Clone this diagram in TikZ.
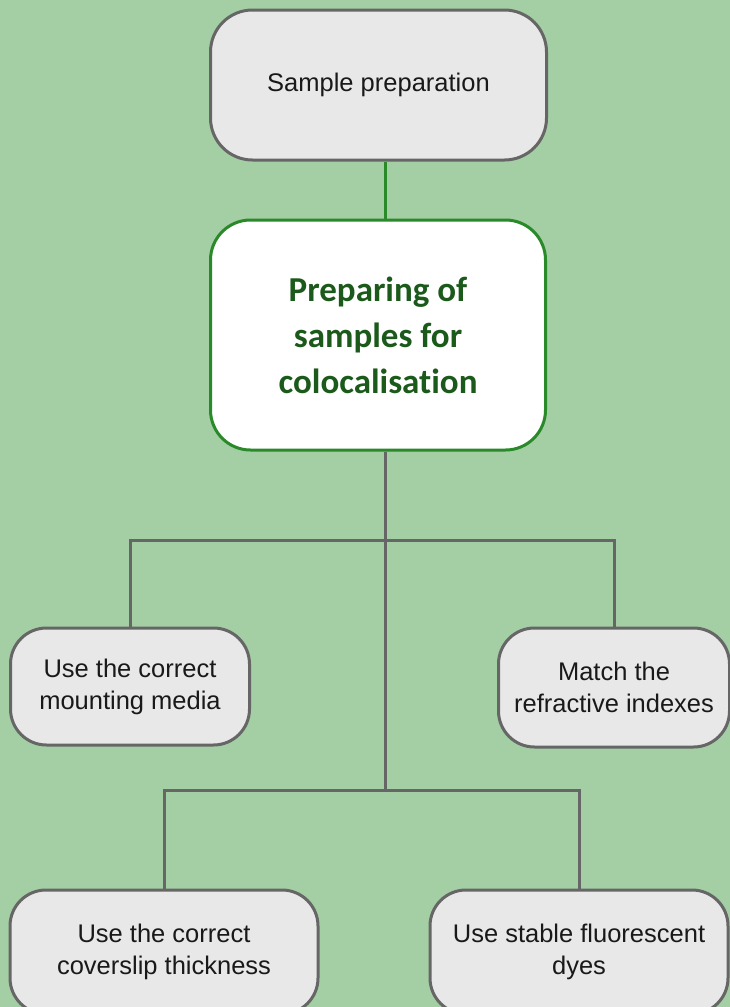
\documentclass[tikz,border=0pt]{standalone}
\usepackage{fontspec}
\setmainfont{Liberation Sans}
\newfontfamily\carlito[Ligatures=NoCommon]{Carlito}
\definecolor{bg}{HTML}{A4CEA4}
\definecolor{boxfill}{HTML}{E8E8E8}
\definecolor{boxline}{HTML}{666666}
\definecolor{gline}{HTML}{2A8A2A}
\definecolor{gtext}{HTML}{1B5A1B}
\begin{document}
\begin{tikzpicture}[x=1pt,y=-1pt,
  graybox/.style={draw=boxline, fill=boxfill, line width=3pt, rounded corners=36pt,
    align=center, inner sep=0pt, font=\fontsize{25.5}{32}\selectfont, text=black!90},
  mainbox/.style={draw=gline, fill=white, line width=3pt, rounded corners=40pt,
    align=center, inner sep=0pt, font=\carlito\bfseries\fontsize{35}{46}\selectfont, text=gtext},
  greenconn/.style={draw=gline, line width=3pt},
  grayconn/.style={draw=boxline, line width=3pt}]
\useasboundingbox (0,0) rectangle (730,1007);
\fill[bg] (0,0) rectangle (730,1007);
\clip (0,0) rectangle (730,1007);
% nodes
\node[graybox, rounded corners=42pt, minimum width=336pt, minimum height=150pt] (sp) at (378.5,85) {Sample preparation};
\node[mainbox, minimum width=335pt, minimum height=230pt] (main) at (378,335) {Preparing of\\samples for\\colocalisation};
\node[graybox, minimum width=239pt, minimum height=117pt] (mm) at (130,686.5) {Use the correct\\mounting media};
\node[graybox, minimum width=231pt, minimum height=119pt] (ri) at (614,687.5) {Match the\\refractive indexes};
\node[graybox, minimum width=308pt, minimum height=124pt] (cs) at (164,952) {Use the correct\\coverslip thickness};
\node[graybox, minimum width=298pt, minimum height=124pt] (dy) at (579,952) {Use stable fluorescent\\dyes};
% junctions
\coordinate (t) at (385,0);
\coordinate (j1) at (385,540);
\coordinate (j2) at (385,790);
% connectors
\draw[greenconn] (sp.south -| t) -- (main.north -| t);
\draw[grayconn] (main.south -| t) -- (j2);
\draw[grayconn] (mm.north) |- (j1) -| (ri.north);
\draw[grayconn] (cs.north) |- (j2) -| (dy.north);
\end{tikzpicture}
\end{document}
